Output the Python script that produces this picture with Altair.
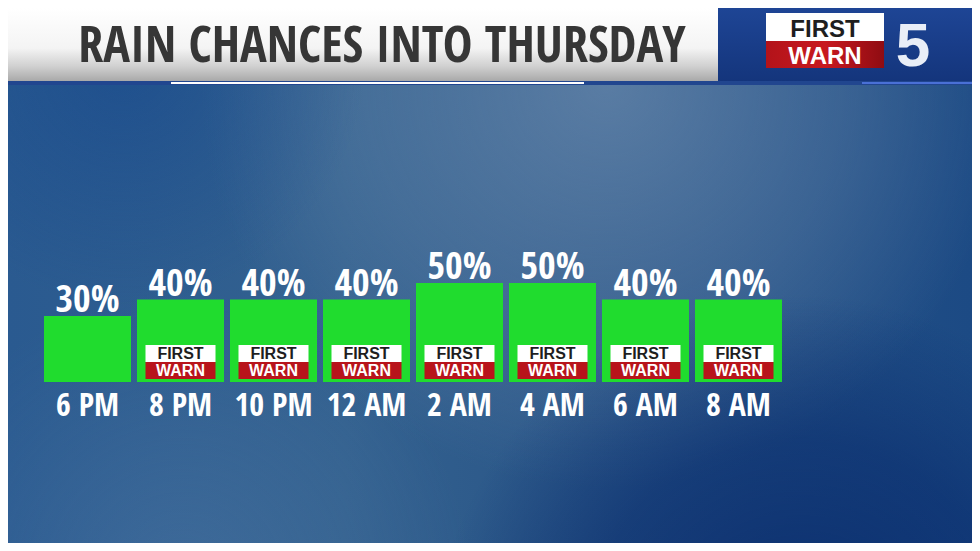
import altair as alt
import pandas as pd

# ---- data ----
hours = ["6 PM", "8 PM", "10 PM", "12 AM", "2 AM", "4 AM", "6 AM", "8 AM"]
chances = [30, 40, 40, 40, 50, 50, 40, 40]
has_logo = [False, True, True, True, True, True, True, True]
title_text = "RAIN CHANCES INTO THURSDAY"

df = pd.DataFrame({"hour": hours, "chance": chances, "logo": has_logo})
df["label"] = df["chance"].astype(str) + "%"

W, H = 964, 535
COND = "Open Sans Condensed, Roboto Condensed, DejaVu Sans Condensed, sans-serif"
BOLD = "Liberation Sans, Arial, DejaVu Sans, sans-serif"


def one():
    return alt.Data(values=[{"k": 1}])


def rect(x, x2, y, y2, fill, **kw):
    return alt.Chart(one()).mark_rect(fill=fill, **kw).encode(
        x=alt.value(x), x2=alt.value(x2), y=alt.value(y), y2=alt.value(y2)
    )


def lin(stops, x1=0, y1=0, x2=1, y2=0):
    return alt.LinearGradient(
        gradient="linear",
        stops=[alt.GradientStop(color=c, offset=o) for o, c in stops],
        x1=x1, y1=y1, x2=x2, y2=y2,
    )


def rad(cx, cy, r, stops):
    return alt.RadialGradient(
        gradient="radial",
        stops=[alt.GradientStop(color=c, offset=o) for o, c in stops],
        x1=cx, y1=cy, r1=0, x2=cx, y2=cy, r2=r,
    )


def text(t, x, y, size, color, font=COND, weight="bold", align="center", **kw):
    return alt.Chart(one()).mark_text(
        text=t, font=font, fontSize=size, fontWeight=weight, color=color,
        align=align, baseline="alphabetic", **kw
    ).encode(x=alt.value(x), y=alt.value(y))


# ---- background ----
bg = rect(0, W, 0, H, lin([(0, "#2a5a90"), (0.35, "#33618f"), (0.6, "#2a5688"), (1, "#1c4a84")]))
cloud1 = rect(0, W, 0, H, rad(0.62, 0.3, 0.42, [(0, "rgba(115,145,178,0.65)"), (0.6, "rgba(115,145,178,0.3)"), (1, "rgba(115,145,178,0)")]))
cloud2 = rect(0, W, 0, H, rad(0.18, 0.82, 0.3, [(0, "rgba(85,125,168,0.4)"), (1, "rgba(85,125,168,0)")]))
dark1 = rect(0, W, 0, H, rad(0.82, 0.9, 0.38, [(0, "rgba(5,38,105,0.8)"), (0.6, "rgba(5,38,105,0.5)"), (1, "rgba(5,38,105,0)")]))
dark2 = rect(0, W, 0, H, rad(0.12, 0.28, 0.25, [(0, "rgba(20,70,140,0.55)"), (1, "rgba(20,70,140,0)")]))

# ---- header ----
header = rect(0, 710, 0, 73, lin([(0, "#ffffff"), (0.55, "#f4f4f4"), (0.8, "#d0d0d0"), (1, "#a9a9a9")], 0, 0, 0, 1))
panel = rect(710, W, 0, 73, lin([(0, "#1e4595"), (1, "#14357c")], 0, 0, 0, 1))
strip = rect(0, W, 73, 77, "#21468f")
wline = rect(163, 576, 74, 76, "#ffffff")
bline = rect(854, W, 74, 76, "#4a70d6")
title = text(title_text, 374, 54, 50, "#363636")

# logo top right
lw = rect(758, 876, 5, 33, "#ffffff")
lr = rect(758, 876, 33, 60, lin([(0, "#b3131a"), (0.5, "#c8191f"), (1, "#8f0c12")]))
lwt = text("FIRST", 817, 29, 24, "#1e1e1e", font=BOLD, weight=900)
lrt = text("WARN", 817, 56, 24, "#ffffff", font=BOLD, weight=900)
five = text("5", 905, 58, 62, "#e9eef7", font=BOLD, weight=900)

# ---- bars ----
xs = alt.Scale(domain=hours, range=[33, 777], paddingInner=0.0645, paddingOuter=0.0323)
ys = alt.Scale(domain=[-10, 100], range=[374, 192.5])
X = alt.X("hour:N", scale=xs, axis=None, sort=hours)

base = alt.Chart(df)
bars = base.mark_bar(color="#20dc2e").encode(
    x=X, y=alt.Y("chance:Q", scale=ys, axis=None), y2=alt.datum(-10)
)
pct = base.mark_text(
    font=COND, fontWeight="bold", fontSize=38, color="#ffffff", baseline="alphabetic", dy=-4
).encode(x=X, y=alt.Y("chance:Q", scale=ys, axis=None), text="label:N")
times = base.mark_text(
    font=COND, fontWeight="bold", fontSize=32, color="#ffffff", baseline="alphabetic"
).encode(x=X, y=alt.value(408), text="hour:N")

logo_base = base.transform_filter("datum.logo")
bw = logo_base.mark_bar(width=70, color="#ffffff").encode(x=X, y=alt.value(337), y2=alt.value(354))
br = logo_base.mark_bar(width=70, color="#b8141b").encode(x=X, y=alt.value(354), y2=alt.value(371))
bwt = logo_base.mark_text(
    text="FIRST", font=BOLD, fontWeight=900, fontSize=16, color="#1e1e1e", baseline="alphabetic"
).encode(x=X, y=alt.value(351))
brt = logo_base.mark_text(
    text="WARN", font=BOLD, fontWeight=900, fontSize=16, color="#ffffff", baseline="alphabetic"
).encode(x=X, y=alt.value(368))

chart = alt.layer(
    bg, cloud1, cloud2, dark1, dark2,
    header, panel, strip, wline, bline, title,
    lw, lr, lwt, lrt, five,
    bars, pct, times, bw, br, bwt, brt,
).properties(
    width=W, height=H, padding=0, autosize=alt.AutoSizeParams(type="none")
).configure_view(stroke=None)

chart.save("out.html", embed_options={"renderer": "svg", "actions": False})
